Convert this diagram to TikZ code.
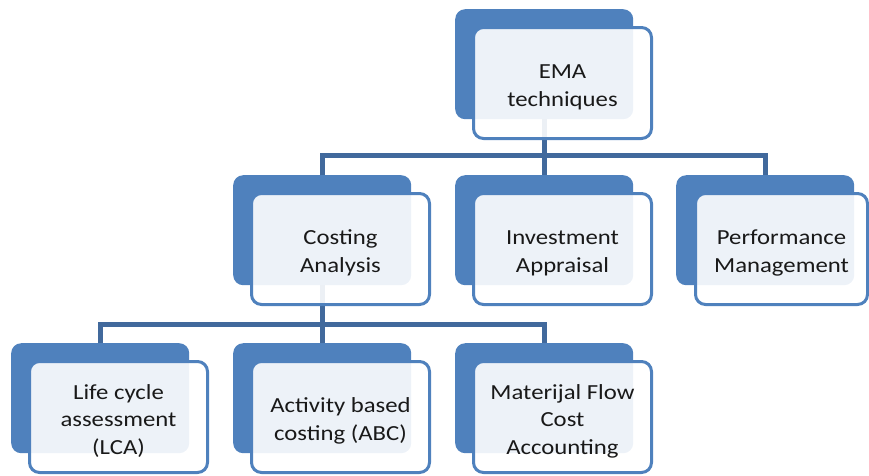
\documentclass[tikz,border=0pt]{standalone}
\usepackage{fontspec}
\setmainfont{Carlito}
\definecolor{boxblue}{HTML}{4F81BD}
\definecolor{connblue}{HTML}{41699C}
\newcommand{\lbl}[1]{\raisebox{-4pt}[\height][\depth]{\scalebox{1.15}[1]{\begin{tabular}{@{}c@{}}#1\end{tabular}}}}
\begin{document}
\begin{tikzpicture}[x=1pt,y=-1pt,
  backbox/.style={rectangle, rounded corners=10pt, fill=boxblue, minimum width=178pt, minimum height=110pt, inner sep=0pt, anchor=north west},
  frontbox/.style={rectangle, rounded corners=10pt, draw=boxblue, line width=3pt, fill=white, fill opacity=0.9, text opacity=1, minimum width=178pt, minimum height=111pt, inner sep=0pt, anchor=north west, font=\fontsize{21.5}{27.5}\selectfont, text=black!90},
  conn/.style={draw=connblue, line width=5pt}]
\useasboundingbox (0,0) rectangle (869,475);
% back boxes
\node[backbox] (emaB) at (455,9) {};
\node[backbox] (costB) at (233,175) {};
\node[backbox] (invB) at (455,175) {};
\node[backbox] (perfB) at (676,175) {};
\node[backbox] (lifeB) at (11,343) {};
\node[backbox] (actB) at (233,343) {};
\node[backbox] (matB) at (455,343) {};
% connectors
\draw[conn] (emaB.south) -- (invB.north);
\draw[conn] (costB.north) -- ++(0,-20) -| (perfB.north);
\draw[conn] (costB.south) -- (actB.north);
\draw[conn] (lifeB.north) -- ++(0,-19) -| (matB.north);
% front boxes
\node[frontbox] (emaF) at (472,26) {\lbl{EMA\\techniques}};
\node[frontbox] (costF) at (250,192) {\lbl{Costing\\Analysis}};
\node[frontbox] (invF) at (472,192) {\lbl{Investment\\Appraisal}};
\node[frontbox, minimum width=172pt] (perfF) at (694,192) {\lbl{Performance\\Management}};
\node[frontbox] (lifeF) at (28,360) {\lbl{Life cycle\\assessment\\(LCA)}};
\node[frontbox] (actF) at (250,360) {\lbl{Activity based\\costing (ABC)}};
\node[frontbox] (matF) at (472,360) {\lbl{Materijal Flow\\Cost\\Accounting}};
\end{tikzpicture}
\end{document}
